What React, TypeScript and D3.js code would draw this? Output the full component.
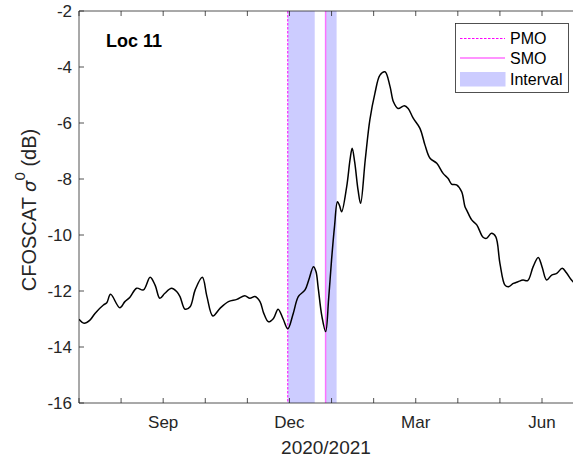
import { useEffect, useRef } from "react";
import * as d3 from "d3";

// x is in months from the start of Jul 2020 (axis ticks are evenly spaced months)
const monthPos = [
  0.0, 0.12, 0.26, 0.38, 0.58, 0.66, 0.75, 0.97, 1.09, 1.21, 1.37, 1.53, 1.69, 1.81, 1.92,
  2.04, 2.2, 2.32, 2.4, 2.52, 2.64, 2.76, 2.93, 3.04, 3.18, 3.35, 3.55, 3.75, 3.94, 4.06,
  4.18, 4.3, 4.39, 4.5, 4.62, 4.73, 4.85, 4.96, 5.09, 5.21, 5.37, 5.46, 5.57, 5.63, 5.68,
  5.77, 5.86, 5.93, 6.0, 6.07, 6.14, 6.19, 6.24, 6.36, 6.44, 6.49, 6.55, 6.63, 6.69, 6.8,
  6.91, 7.03, 7.15, 7.27, 7.39, 7.47, 7.58, 7.73, 7.82, 7.94, 8.1, 8.22, 8.34, 8.5, 8.65,
  8.77, 8.85, 8.97, 9.09, 9.17, 9.21, 9.33, 9.45, 9.6, 9.68, 9.8, 9.9, 10.0, 10.12, 10.2,
  10.32, 10.43, 10.55, 10.66, 10.79, 10.91, 11.0, 11.11, 11.23, 11.35, 11.48, 11.58, 11.7, 11.76
];
const sigma0 = [
  -13.01, -13.15, -13.04, -12.8, -12.5, -12.42, -12.12, -12.6, -12.38, -12.22, -11.9, -11.96, -11.51, -11.8, -12.26,
  -12.08, -11.9, -12.02, -12.2, -12.65, -12.56, -11.96, -11.51, -12.2, -12.89, -12.62, -12.38, -12.3, -12.17, -12.26,
  -12.2, -12.38, -12.8, -13.1, -12.98, -12.65, -13.0, -13.35, -12.8, -12.2, -11.96, -11.6, -11.13, -11.3, -11.85,
  -12.9, -13.45, -12.3, -10.89, -9.7, -8.81, -8.95, -9.17, -8.27, -7.3, -6.9, -7.4, -8.4, -8.87, -7.32,
  -5.89, -4.94, -4.29, -4.17, -4.7, -5.24, -5.48, -5.38, -5.48, -5.83, -6.19, -6.79, -7.26, -7.44, -7.8,
  -7.98, -8.18, -8.21, -8.45, -8.99, -9.11, -9.46, -9.64, -10.08, -10.12, -9.94, -10.06, -11.01, -11.79, -11.85,
  -11.73, -11.67, -11.61, -11.63, -11.13, -10.8, -11.13, -11.61, -11.43, -11.37, -11.19, -11.35, -11.61, -11.7
];

const monthTicks = [0, 1, 2, 3, 4, 5, 6, 7, 8, 9, 10, 11];
const monthLabels: Record<number, string> = { 2: "Sep", 5: "Dec", 8: "Mar", 11: "Jun" };
const yTicks = [-16, -14, -12, -10, -8, -6, -4, -2];

const pmo = 4.96;
const smo = 5.86;
const intervals = [
  [4.96, 5.6],
  [5.84, 6.12],
];

export default function App() {
  const ref = useRef<SVGSVGElement>(null);

  useEffect(() => {
    const svg = d3.select(ref.current);
    svg.selectAll("*").remove();

    const left = 79, right = 574, top = 11, bottom = 403;
    const axisColor = "#262626";
    const font = "'Liberation Sans', Arial, sans-serif";
    const smoColor = "#ff70ff";

    const x = d3.scaleLinear([0, 11.76], [left, right]);
    const y = d3.scaleLinear([-16, -2], [bottom, top]);

    const clipId = "plotclip";
    svg.append("clipPath").attr("id", clipId)
      .append("rect").attr("x", left).attr("y", top).attr("width", right - left).attr("height", bottom - top);

    const plot = svg.append("g").attr("clip-path", `url(#${clipId})`);

    // shaded intervals
    plot.selectAll("rect.interval")
      .data(intervals)
      .join("rect")
      .attr("class", "interval")
      .attr("x", d => x(d[0]))
      .attr("width", d => x(d[1]) - x(d[0]))
      .attr("y", top)
      .attr("height", bottom - top)
      .attr("fill", "#ccccff");

    plot.append("line")
      .attr("x1", x(pmo)).attr("x2", x(pmo)).attr("y1", top).attr("y2", bottom)
      .attr("stroke", "#ff00ff").attr("stroke-width", 1).attr("stroke-dasharray", "2.5,1.5");

    plot.append("line")
      .attr("x1", x(smo)).attr("x2", x(smo)).attr("y1", top).attr("y2", bottom)
      .attr("stroke", smoColor).attr("stroke-width", 1.4);

    const pts = monthPos.map((m, i) => [m, sigma0[i]] as [number, number]);
    const line = d3.line<[number, number]>()
      .x(d => x(d[0]))
      .y(d => y(d[1]))
      .curve(d3.curveCatmullRom);

    plot.append("path")
      .attr("d", line(pts))
      .attr("fill", "none")
      .attr("stroke", "#000")
      .attr("stroke-width", 1.5);

    // axes box (left, bottom, top)
    const ax = svg.append("g").attr("stroke", axisColor).attr("stroke-width", 0.8).attr("fill", "none");
    ax.append("line").attr("x1", left).attr("x2", left).attr("y1", top).attr("y2", bottom);
    ax.append("line").attr("x1", left).attr("x2", right).attr("y1", bottom).attr("y2", bottom);
    ax.append("line").attr("x1", left).attr("x2", right).attr("y1", top).attr("y2", top);

    monthTicks.forEach(t => {
      ax.append("line").attr("x1", x(t)).attr("x2", x(t)).attr("y1", bottom).attr("y2", bottom - 5);
      ax.append("line").attr("x1", x(t)).attr("x2", x(t)).attr("y1", top).attr("y2", top + 5);
    });
    yTicks.forEach(t => {
      ax.append("line").attr("x1", left).attr("x2", left + 5).attr("y1", y(t)).attr("y2", y(t));
    });

    const txt = svg.append("g").attr("fill", axisColor).style("font-family", font);

    monthTicks.filter(t => monthLabels[t]).forEach(t => {
      txt.append("text")
        .attr("x", x(t)).attr("y", 428)
        .attr("text-anchor", "middle")
        .style("font-size", "17px")
        .text(monthLabels[t]);
    });

    yTicks.forEach(t => {
      txt.append("text")
        .attr("x", 72).attr("y", y(t))
        .attr("text-anchor", "end")
        .attr("dominant-baseline", "central")
        .style("font-size", "17px")
        .text(String(t));
    });

    txt.append("text")
      .attr("x", (left + right) / 2 - 0.5).attr("y", 454)
      .attr("text-anchor", "middle")
      .style("font-size", "19px")
      .text("2020/2021");

    const ylab = txt.append("text")
      .attr("transform", `translate(36, 210) rotate(-90)`)
      .attr("text-anchor", "middle")
      .style("font-size", "20px");
    ylab.append("tspan").text("CFOSCAT ");
    ylab.append("tspan").style("font-style", "italic").style("font-family", "'DejaVu Sans', sans-serif").style("font-size", "18px").text("σ");
    ylab.append("tspan").attr("dy", -11).style("font-size", "15px").text("0");
    ylab.append("tspan").attr("dy", 11).text(" (dB)");

    svg.append("text")
      .attr("x", 106).attr("y", 47)
      .style("font-family", font)
      .style("font-size", "18px")
      .style("font-weight", "bold")
      .attr("fill", "#000")
      .text("Loc 11");

    // legend
    const lg = svg.append("g");
    lg.append("rect")
      .attr("x", 455.5).attr("y", 23.5).attr("width", 113).attr("height", 69)
      .attr("fill", "#fff").attr("stroke", "#262626").attr("stroke-width", 0.8);
    const rows = [
      { label: "PMO", y: 38.5, kind: "dash" },
      { label: "SMO", y: 58, kind: "solid" },
      { label: "Interval", y: 79, kind: "patch" },
    ];
    rows.forEach(r => {
      if (r.kind === "patch") {
        lg.append("rect").attr("x", 460).attr("y", r.y - 7).attr("width", 45.5).attr("height", 14.5).attr("fill", "#ccccff");
      } else {
        lg.append("line").attr("x1", 460).attr("x2", 505).attr("y1", r.y).attr("y2", r.y)
          .attr("stroke", r.kind === "dash" ? "#ff00ff" : smoColor)
          .attr("stroke-width", r.kind === "dash" ? 1 : 1.4)
          .attr("stroke-dasharray", r.kind === "dash" ? "2.5,1.5" : null);
      }
      lg.append("text")
        .attr("x", 510).attr("y", r.y)
        .attr("dominant-baseline", "central")
        .style("font-family", font)
        .style("font-size", "16px")
        .attr("fill", "#000")
        .text(r.label);
    });
  }, []);

  return (
    <svg
      ref={ref}
      width={573}
      height={461}
      style={{ position: "absolute", left: 0, top: 0, background: "#fff" }}
    />
  );
}
